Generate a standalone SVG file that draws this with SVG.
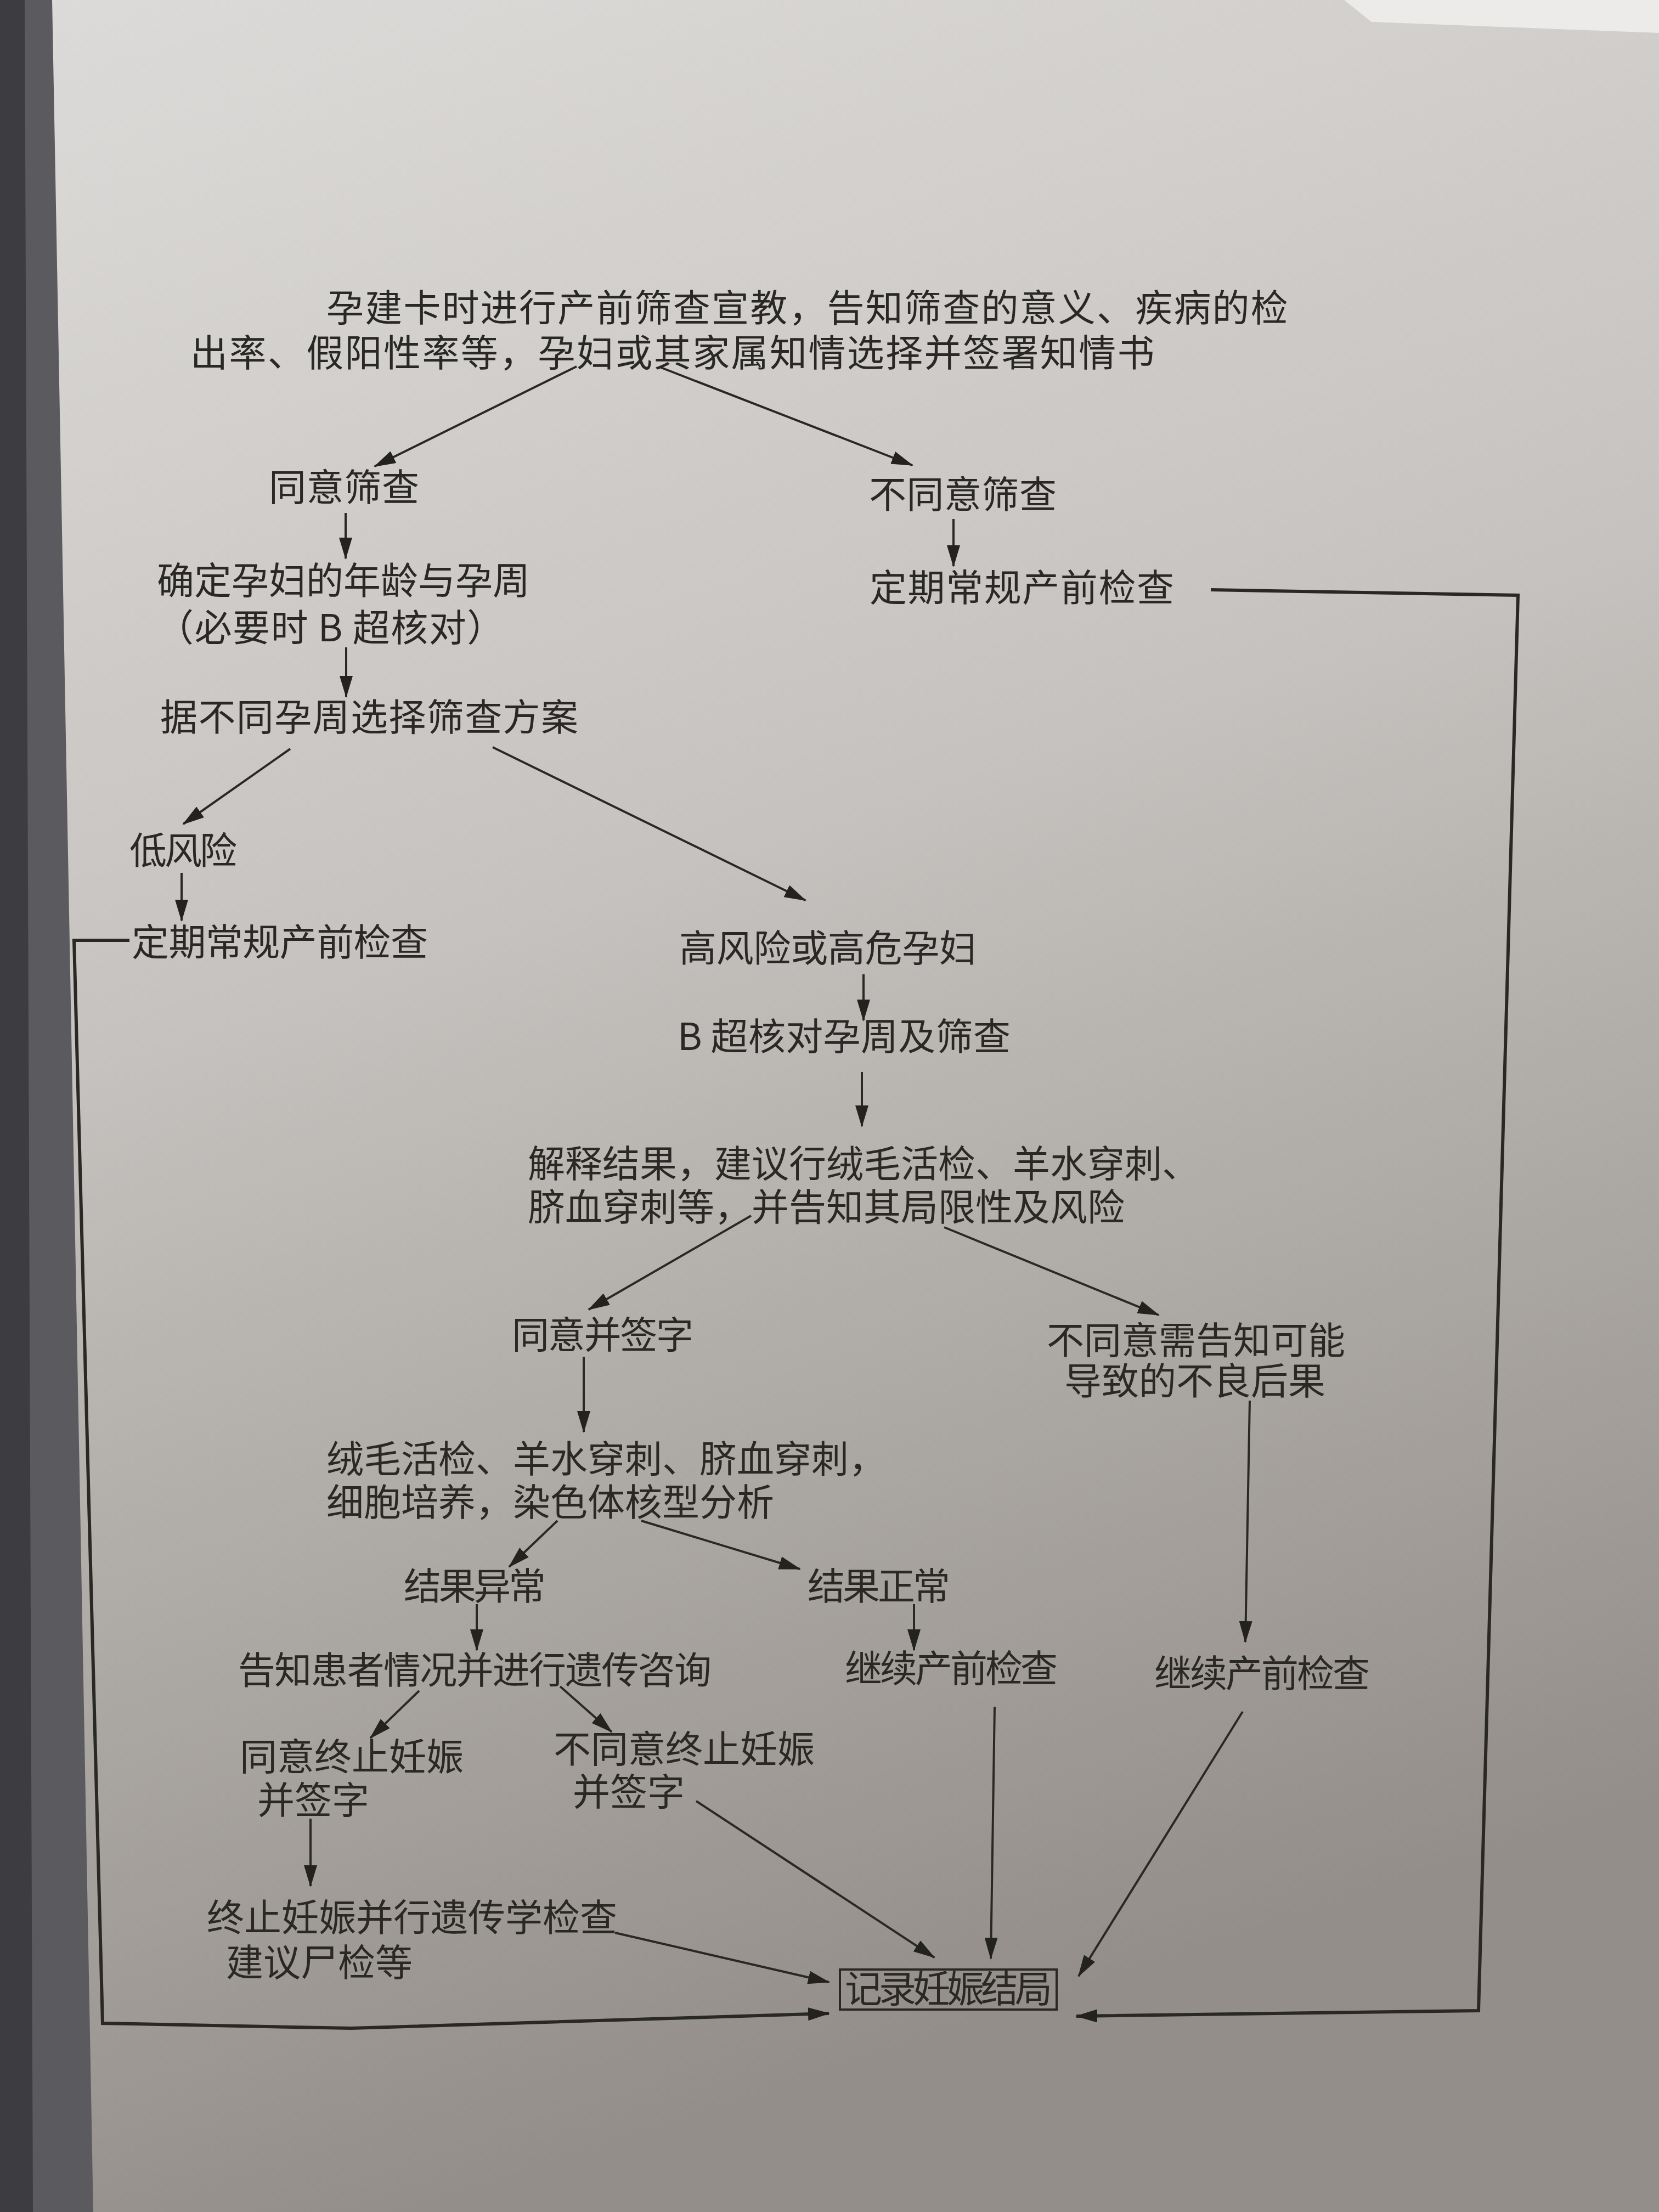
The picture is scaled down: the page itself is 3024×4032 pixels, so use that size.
<svg xmlns="http://www.w3.org/2000/svg" width="3024" height="4032" viewBox="0 0 3024 4032">
<defs>
<linearGradient id="bg" x1="0" y1="0" x2="0.25" y2="1">
<stop offset="0" stop-color="#dddbd9"/>
<stop offset="0.45" stop-color="#c6c3c0"/>
<stop offset="1" stop-color="#938e89"/>
</linearGradient>
<marker id="ah" viewBox="0 0 40 24" refX="38" refY="12" markerWidth="40" markerHeight="24" markerUnits="userSpaceOnUse" orient="auto">
<path d="M0,0 L40,12 L0,24 z" fill="#24221f"/>
</marker>
<style>
.t{font-family:"Noto Sans CJK SC","Noto Sans CJK TC",sans-serif;font-size:68px;fill:#2a2825;}
.c line,.c polyline{stroke:#2a2825;stroke-width:4;fill:none;marker-end:url(#ah);}
.c .loop{stroke-width:6;}
.box{fill:none;stroke:#2a2825;stroke-width:4;}
</style>
</defs>
<rect x="0" y="0" width="3024" height="4032" fill="url(#bg)"/>
<polygon points="2450,0 3024,0 3024,60 2500,40" fill="#ecebe9"/>
<polygon points="0,0 95,0 170,4032 0,4032" fill="#5b5a5f"/>
<polygon points="0,0 45,0 60,4032 0,4032" fill="#3d3c41"/>

<g id="n_start">
<text class="t" font-size="70"><tspan x="595" y="586" letter-spacing="2.2">孕建卡时进行产前筛查宣教，告知筛查的意义、疾病的检</tspan><tspan x="347" y="668" letter-spacing="2.4">出率、假阳性率等，孕妇或其家属知情选择并签署知情书</tspan></text>
</g>
<g id="n_agree"><text class="t" x="490" y="913" textLength="274" lengthAdjust="spacing">同意筛查</text></g>
<g id="n_disagree"><text class="t" x="1584" y="926" textLength="342" lengthAdjust="spacing">不同意筛查</text></g>
<g id="n_age">
<text class="t" font-size="69"><tspan x="286" y="1083">确定孕妇的年龄与孕周</tspan><tspan x="285" y="1169" letter-spacing="1.5">（必要时 B 超核对）</tspan></text>
</g>
<g id="n_routine_r"><text class="t" x="1585" y="1096" textLength="555" lengthAdjust="spacing">定期常规产前检查</text></g>
<g id="n_plan"><text class="t" x="292" y="1332" textLength="762" lengthAdjust="spacing">据不同孕周选择筛查方案</text></g>
<g id="n_low"><text class="t" x="236" y="1575" textLength="196" lengthAdjust="spacing">低风险</text></g>
<g id="n_routine_l"><text class="t" x="240" y="1742" textLength="540" lengthAdjust="spacing">定期常规产前检查</text></g>
<g id="n_high"><text class="t" x="1238" y="1753" textLength="542" lengthAdjust="spacing">高风险或高危孕妇</text></g>
<g id="n_bus"><text class="t" x="1235" y="1914" textLength="607" lengthAdjust="spacing">B 超核对孕周及筛查</text></g>
<g id="n_explain">
<text class="t" font-size="68"><tspan x="962" y="2146">解释结果，建议行绒毛活检、羊水穿刺、</tspan><tspan x="962" y="2225">脐血穿刺等，并告知其局限性及风险</tspan></text>
</g>
<g id="n_sign"><text class="t" x="933" y="2458" textLength="331" lengthAdjust="spacing">同意并签字</text></g>
<g id="n_refuse">
<text class="t" font-size="68"><tspan x="1908" y="2468">不同意需告知可能</tspan><tspan x="1940" y="2542">导致的不良后果</tspan></text>
</g>
<g id="n_tests">
<text class="t" font-size="67"><tspan x="595" y="2684">绒毛活检、羊水穿刺、脐血穿刺，</tspan><tspan x="595" y="2763">细胞培养，染色体核型分析</tspan></text>
</g>
<g id="n_abnormal"><text class="t" x="736" y="2916" textLength="259" lengthAdjust="spacing">结果异常</text></g>
<g id="n_normal"><text class="t" x="1472" y="2916" textLength="260" lengthAdjust="spacing">结果正常</text></g>
<g id="n_counsel"><text class="t" x="434" y="3069" textLength="863" lengthAdjust="spacing">告知患者情况并进行遗传咨询</text></g>
<g id="n_continue_m"><text class="t" x="1540" y="3066" textLength="388" lengthAdjust="spacing">继续产前检查</text></g>
<g id="n_continue_r"><text class="t" x="2104" y="3075" textLength="393" lengthAdjust="spacing">继续产前检查</text></g>
<g id="n_terminate_yes">
<text class="t" font-size="66"><tspan x="437" y="3227">同意终止妊娠</tspan><tspan x="469" y="3306">并签字</tspan></text>
</g>
<g id="n_terminate_no">
<text class="t" font-size="65"><tspan x="1009" y="3213">不同意终止妊娠</tspan><tspan x="1044" y="3291">并签字</tspan></text>
</g>
<g id="n_terminate">
<text class="t" font-size="66"><tspan x="377" y="3520">终止妊娠并行遗传学检查</tspan><tspan x="412" y="3602">建议尸检等</tspan></text>
</g>
<g id="n_record">
<rect class="box" x="1531" y="3590" width="395" height="73"/>
<text class="t" x="1540" y="3650" font-size="63" textLength="378" lengthAdjust="spacing">记录妊娠结局</text>
</g>

<g id="connectors" class="c">
<line x1="1051" y1="668" x2="683" y2="850"/>
<line x1="1205" y1="670" x2="1663" y2="848"/>
<line x1="630" y1="935" x2="630" y2="1018"/>
<line x1="1738" y1="946" x2="1738" y2="1032"/>
<line x1="631" y1="1180" x2="631" y2="1270"/>
<line x1="529" y1="1365" x2="334" y2="1502"/>
<line x1="898" y1="1362" x2="1468" y2="1641"/>
<line x1="331" y1="1591" x2="331" y2="1678"/>
<polyline class="loop" points="236,1714 135,1714 187,3688 640,3697 1511,3670"/>
<polyline class="loop" points="2207,1075 2767,1085 2695,3665 1962,3675"/>
<line x1="1574" y1="1776" x2="1574" y2="1860"/>
<line x1="1571" y1="1954" x2="1571" y2="2053"/>
<line x1="1369" y1="2216" x2="1073" y2="2387"/>
<line x1="1721" y1="2237" x2="2112" y2="2397"/>
<line x1="1064" y1="2473" x2="1064" y2="2610"/>
<line x1="2278" y1="2553" x2="2270" y2="2993"/>
<line x1="1016" y1="2772" x2="928" y2="2856"/>
<line x1="1169" y1="2772" x2="1458" y2="2860"/>
<line x1="869" y1="2924" x2="869" y2="3008"/>
<line x1="1666" y1="2924" x2="1666" y2="3008"/>
<line x1="764" y1="3082" x2="675" y2="3168"/>
<line x1="1021" y1="3074" x2="1115" y2="3157"/>
<line x1="566" y1="3315" x2="566" y2="3438"/>
<line x1="1269" y1="3283" x2="1703" y2="3568"/>
<line x1="1813" y1="3111" x2="1806" y2="3570"/>
<line x1="2265" y1="3120" x2="1966" y2="3602"/>
<line x1="1121" y1="3523" x2="1511" y2="3613"/>
</g>
</svg>
